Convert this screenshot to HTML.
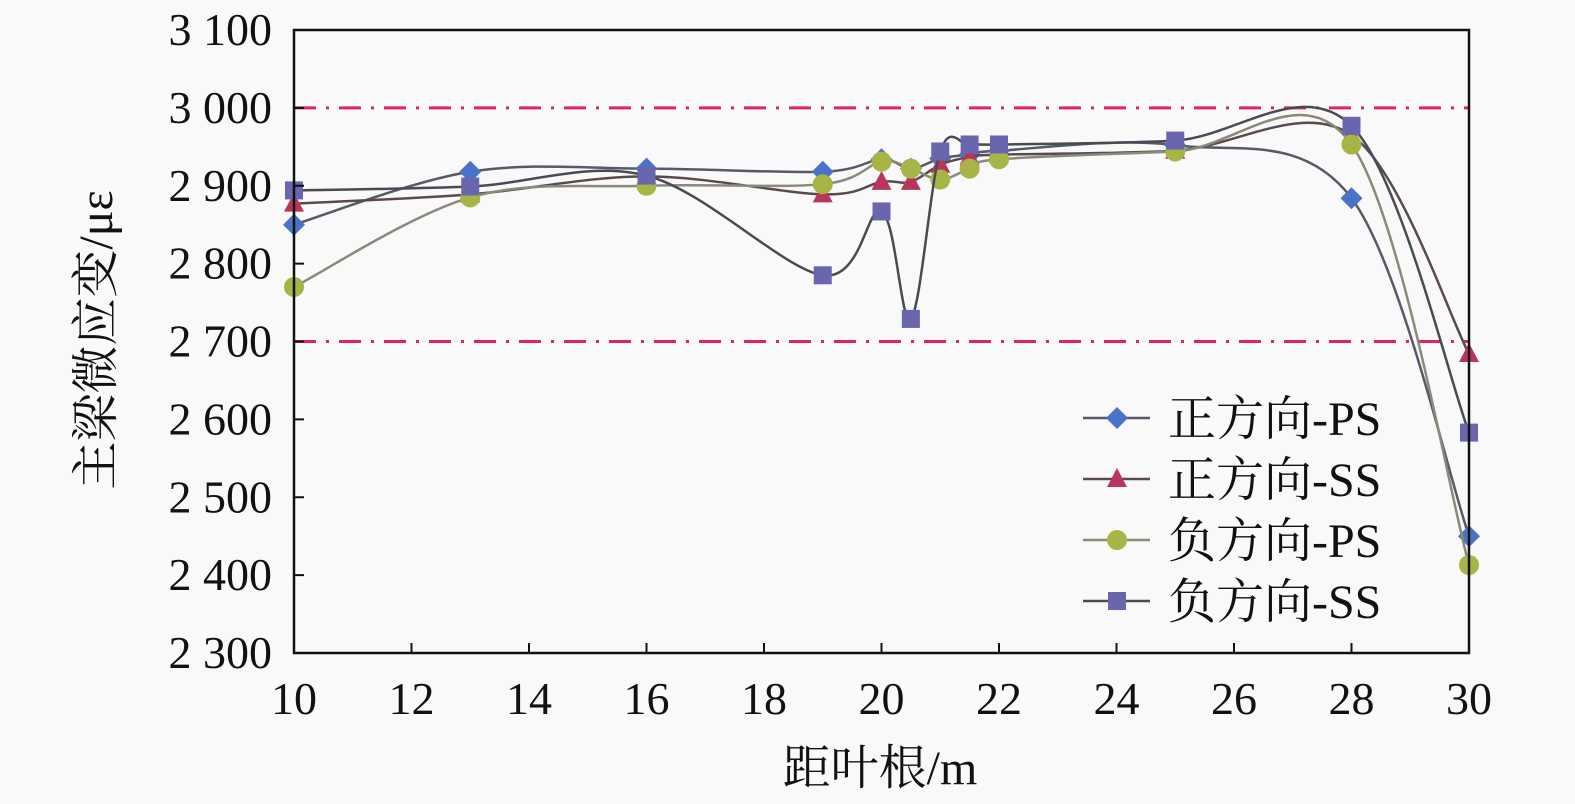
<!DOCTYPE html>
<html><head><meta charset="utf-8"><style>
body{margin:0;background:#f9f9f9;}
svg{display:block;font-family:"Liberation Serif","Noto Serif CJK SC",serif;}
</style></head><body>
<svg id="chart" width="1575" height="804" viewBox="0 0 1575 804">
<rect x="0" y="0" width="1575" height="804" fill="#f9f9f9"/>
<g id="grid"></g><g id="series"></g><g id="axes"></g><g id="legend"></g>
</svg>
<script>
const xValues=[10,13,16,19,20,20.5,21,21.5,22,25,28,30];
const seriesNames=["正方向-PS","正方向-SS","负方向-PS","负方向-SS"];
const posPS=[2850,2918,2922,2918,2934,2922,2935,2940,2945,2952,2884,2450];
const posSS=[2877,2889,2912,2889,2905,2905,2927,2937,2940,2945,2965,2684];
const negPS=[2770,2885,2900,2902,2931,2922,2908,2922,2934,2944,2953,2413];
const negSS=[2894,2899,2913,2785,2867,2729,2944,2953,2953,2958,2977,2583];
const xTicks=[10,12,14,16,18,20,22,24,26,28,30];
const yTicks=[2300,2400,2500,2600,2700,2800,2900,3000,3100];
const yTickLabels=["2 300","2 400","2 500","2 600","2 700","2 800","2 900","3 000","3 100"];
const limitLines=[3000,2700];

const NS="http://www.w3.org/2000/svg";
const L=294,R=1469,T=30,B=653;
const sx=v=>L+(v-10)/(30-10)*(R-L);
const sy=v=>B-(v-2300)/(3100-2300)*(B-T);
function mk(tag,attrs,parent){const e=document.createElementNS(NS,tag);for(const k in attrs)e.setAttribute(k,attrs[k]);parent.appendChild(e);return e;}
const grid=document.getElementById('grid'),ser=document.getElementById('series'),ax=document.getElementById('axes'),lg=document.getElementById('legend');

limitLines.forEach(v=>{
  const l=mk('line',{x1:L,x2:R,y1:sy(v),y2:sy(v),stroke:'#e0245e','stroke-width':3,'stroke-dasharray':'22 10 3 10'},grid);
  
  
});

const frame=mk('rect',{x:L,y:T,width:R-L,height:B-T,fill:'none',stroke:'#111','stroke-width':2.5},ax);


yTicks.forEach((v,i)=>{
  mk('line',{x1:L,x2:L+10,y1:sy(v),y2:sy(v),stroke:'#111','stroke-width':2},ax);
  const t=mk('text',{x:272,y:sy(v)+15,'text-anchor':'end','font-size':46,fill:'#111'},ax);
  t.textContent=yTickLabels[i];
  
  
});
xTicks.forEach(v=>{
  mk('line',{x1:sx(v),x2:sx(v),y1:B,y2:B-10,stroke:'#111','stroke-width':2},ax);
  const t=mk('text',{x:sx(v),y:714,'text-anchor':'middle','font-size':46,fill:'#111'},ax);
  t.textContent=v;
  
  
});
const xt=mk('text',{x:880,y:784,'text-anchor':'middle','font-size':48,fill:'#111'},ax);
xt.textContent='距叶根/m';


const yt=mk('text',{x:0,y:0,'text-anchor':'middle','font-size':48,fill:'#111',transform:'translate(112,340) rotate(-90)'},ax);
yt.textContent='主梁微应变/με';



function spline(pts){
  let d='M'+pts[0][0]+','+pts[0][1];
  for(let i=0;i<pts.length-1;i++){
    const p0=pts[Math.max(i-1,0)],p1=pts[i],p2=pts[i+1],p3=pts[Math.min(i+2,pts.length-1)];
    const k=1/6;
    d+=' C'+(p1[0]+(p2[0]-p0[0])*k)+','+(p1[1]+(p2[1]-p0[1])*k)+' '+(p2[0]-(p3[0]-p1[0])*k)+','+(p2[1]-(p3[1]-p1[1])*k)+' '+p2[0]+','+p2[1];
  }
  return d;
}
function marker(type,x,y,color,parent){
  let e;
  if(type==='diamond')e=mk('polygon',{points:`${x},${y-11} ${x+11},${y} ${x},${y+11} ${x-11},${y}`,fill:color},parent);
  else if(type==='tri')e=mk('polygon',{points:`${x},${y-11} ${x+10},${y+8} ${x-10},${y+8}`,fill:color},parent);
  else if(type==='circle')e=mk('circle',{cx:x,cy:y,r:10,fill:color},parent);
  else e=mk('rect',{x:x-9,y:y-9,width:18,height:18,fill:color},parent);
  return e;
}
const allSeries=[posPS,posSS,negPS,negSS];
const types=['diamond','tri','circle','square'];
const colors=['#4a72c8','#b8365c','#a6b545','#6a66ae'];
const lineColors=['#555a66','#5a4a50','#8a8a7a','#4a4a55'];
allSeries.forEach((arr,si)=>{
  const g=mk('g',{},ser);
  
  
  const pts=arr.map((v,i)=>[sx(xValues[i]),sy(v)]);
  mk('path',{d:spline(pts),fill:'none',stroke:lineColors[si],'stroke-width':2.5},g);
  pts.forEach(p=>{
    const m=marker(types[si],p[0],p[1],colors[si],g);
    
    
  });
});
seriesNames.forEach((n,i)=>{
  const y=418+i*61;
  const g=mk('g',{},lg);
  
  
  mk('line',{x1:1083,x2:1150,y1:y,y2:y,stroke:lineColors[i],'stroke-width':2.5},g);
  marker(types[i],1117,y,colors[i],g);
  const t=mk('text',{x:1168,y:y+17,'font-size':48,fill:'#111'},g);
  t.textContent=n;
});
</script>
</body></html>
